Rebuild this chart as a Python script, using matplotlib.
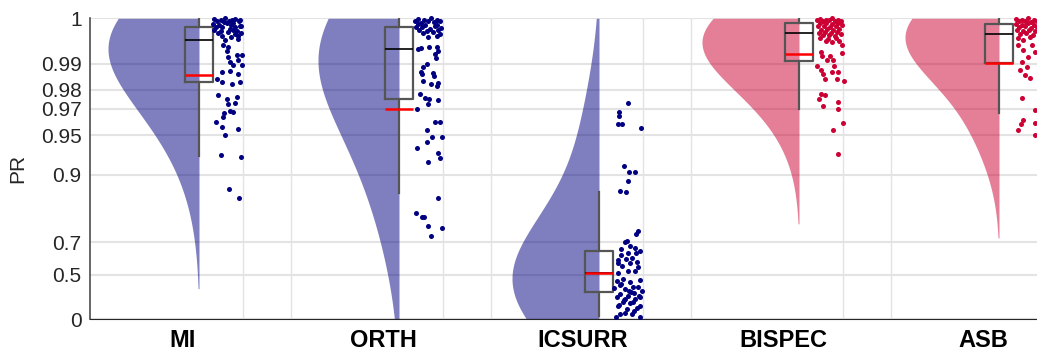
import numpy as np
import matplotlib
matplotlib.use("Agg")
import matplotlib.pyplot as plt

plt.rcParams['font.family'] = ['Liberation Sans', 'DejaVu Sans']

# groups and colours
groups = ['MI', 'ORTH', 'ICSURR', 'BISPEC', 'ASB']
dot_colors = ['#000080', '#000080', '#000080', '#cc0033', '#cc0033']
yticks = [0, 0.5, 0.7, 0.9, 0.95, 0.97, 0.98, 0.99, 1]
yticklabels = ['0', '0.5', '0.7', '0.9', '0.95', '0.97', '0.98', '0.99', '1']

# box summaries
q1 = [0.9833, 0.9755, 0.350, 0.9907, 0.9903]
med = [0.9961, 0.9939, 0.513, 0.9975, 0.9973]
q3 = [0.9986, 0.9986, 0.655, 0.9992, 0.9991]
whislo = [0.927, 0.8645, 0.050, 0.970, 0.967]
whishi = [1.0, 1.0, 0.867, 1.0, 1.0]
means = [0.986, 0.970, 0.515, 0.9928, 0.9902]

# PR values of the single subjects, with their horizontal jitter
mi_pr = [0.9999, 0.9998, 1.0, 0.9998, 0.9999, 0.9997,
         0.9995, 0.9994, 0.9996, 0.9993, 0.9995,
         0.9991, 0.9989, 0.9992, 0.9990, 0.9988,
         0.9985, 0.9986, 0.9983, 0.9985, 0.9987,
         0.9980, 0.9978, 0.9981, 0.9979,
         0.9974, 0.9976, 0.9972, 0.9975,
         0.9968, 0.9966, 0.9969,
         0.9960, 0.9962, 0.9949, 0.9944, 0.9935, 0.9924, 0.9924, 0.9918, 0.9910, 0.9905, 0.9895, 0.9895,
         0.9872, 0.9875, 0.9865, 0.9846, 0.9834, 0.9826, 0.9834, 0.9776, 0.9755, 0.9766, 0.9728, 0.9734,
         0.9686, 0.9680, 0.9673, 0.9645, 0.9610, 0.9572, 0.9555, 0.9502, 0.9288, 0.9260, 0.8735, 0.8535]
mi_jit = [.075, .11, .13, .165, .18, .205, .09, .125, .15, .17, .2, .07, .10, .14, .16, .21,
          .085, .115, .155, .18, .205, .075, .11, .17, .19, .095, .145, .18, .21, .115, .16, .195,
          .13, .195, .12, .145, .14, .19, .215, .145, .195, .155, .17, .215,
          .115, .155, .195, .09, .115, .165, .205, .095, .14, .19, .145, .18,
          .155, .17, .125, .12, .085, .115, .195, .13, .11, .21, .15, .20]

orth_pr = [0.9999, 0.9997, 1.0, 0.9998,
           0.9995, 0.9993, 0.9996, 0.9994, 0.9995,
           0.9991, 0.9989, 0.9990,
           0.9985, 0.9986, 0.9983, 0.9987, 0.9984,
           0.9980, 0.9978, 0.9981,
           0.9974, 0.9976, 0.9972,
           0.9966, 0.9968,
           0.9940, 0.9942, 0.9944, 0.9944, 0.9927, 0.9934, 0.9916, 0.9898, 0.9889, 0.9872, 0.9865, 0.9868,
           0.9857, 0.9838, 0.9826, 0.9830, 0.9818, 0.9780, 0.9760, 0.9755, 0.9728, 0.9750, 0.9698, 0.9610,
           0.9610, 0.9546, 0.9483, 0.9483, 0.9370, 0.9435, 0.9312, 0.9250, 0.9196, 0.8530, 0.8130, 0.7980,
           0.8010, 0.7700, 0.7625, 0.7265]
orth_jit = [.095, .125, .16, .19, .08, .11, .145, .175, .205, .095, .13, .19,
            .085, .115, .155, .18, .21, .10, .14, .195, .12, .17, .205, .145, .19,
            .095, .11, .15, .19, .18, .195, .185, .14, .12, .11, .115, .17,
            .175, .12, .16, .195, .19, .105, .13, .15, .145, .195, .09, .18,
            .205, .14, .165, .215, .09, .14, .195, .205, .145, .195, .085, .115,
            .125, .145, .215, .16]

icsurr_pr = [0.9734, 0.9680, 0.9652, 0.9595, 0.9595, 0.9562, 0.9140, 0.9050, 0.9050, 0.8890, 0.8690,
             0.8670,
             0.751, 0.735, 0.708, 0.699, 0.674, 0.684, 0.664, 0.647, 0.647, 0.636, 0.653, 0.618,
             0.606, 0.612, 0.593, 0.587, 0.587, 0.560, 0.567, 0.532, 0.525, 0.510,
             0.445, 0.462, 0.436, 0.453, 0.399, 0.409, 0.371, 0.390, 0.381, 0.351, 0.321, 0.331,
             0.351, 0.299, 0.288, 0.266, 0.254, 0.288, 0.230, 0.219,
             0.420, 0.350, 0.300, 0.270, 0.240, 0.200, 0.160, 0.100,
             0.183, 0.183, 0.143, 0.116, 0.075, 0.075, 0.030, 0.030]
icsurr_jit = [.145, .10, .10, .095, .115, .21, .125, .15, .18, .145, .105, .135,
              .195, .185, .14, .13, .18, .155, .11, .145, .185, .11, .205, .165,
              .095, .135, .19, .095, .155, .195, .115, .145, .18, .095,
              .09, .12, .155, .205, .17, .105, .13, .195, .075, .15, .105, .175,
              .215, .145, .09, .18, .125, .205, .12, .155,
              .11, .16, .20, .13, .17, .10, .19, .13,
              .095, .205, .14, .175, .105, .165, .085, .205]

bispec_pr = [0.9999, 0.9998, 1.0, 0.9998,
             0.9997, 0.9996, 0.9997, 0.9995, 0.9996,
             0.9992, 0.9993, 0.9991, 0.9992,
             0.9987, 0.9988, 0.9986, 0.9987, 0.9989,
             0.9981, 0.9982, 0.9980, 0.9983,
             0.9975, 0.9977, 0.9974, 0.9976,
             0.9970, 0.9971, 0.9969, 0.9972,
             0.9964, 0.9962, 0.9965,
             0.9958, 0.9956, 0.9959,
             0.9949, 0.9929, 0.9932, 0.9921, 0.9921, 0.9910, 0.9910, 0.9892, 0.9892, 0.9879, 0.9865, 0.9872,
             0.9872, 0.9846, 0.9846, 0.9838, 0.9780, 0.9776, 0.9755, 0.9716, 0.9740, 0.9700, 0.9600, 0.9546,
             0.9300]
bispec_jit = [.105, .135, .165, .195, .09, .12, .15, .18, .21, .105, .135, .165, .195,
              .095, .125, .155, .185, .215, .11, .14, .17, .2, .10, .13, .16, .19,
              .12, .15, .18, .21, .105, .145, .185, .135, .165, .20,
              .215, .215, .11, .115, .155, .14, .17, .175, .09, .11, .12, .165,
              .195, .13, .19, .225, .11, .13, .10, .12, .195, .195, .22, .17, .195]

asb_pr = [0.9999, 0.9998, 1.0, 0.9997, 0.9999,
          0.9995, 0.9996, 0.9994, 0.9995,
          0.9991, 0.9990, 0.9992, 0.9989, 0.9991,
          0.9985, 0.9987, 0.9984, 0.9986,
          0.9980, 0.9979, 0.9981, 0.9978,
          0.9972, 0.9974, 0.9971,
          0.9964, 0.9966,
          0.9960, 0.9949, 0.9949, 0.9937, 0.9918, 0.9905, 0.9889, 0.9861, 0.9852, 0.9932, 0.9879, 0.9760,
          0.9692, 0.9624, 0.9595, 0.9602, 0.9546, 0.9502, 0.9300]
asb_jit = [.085, .115, .145, .175, .205, .10, .13, .16, .19, .085, .115, .145, .175, .205,
           .10, .13, .16, .19, .09, .12, .15, .18, .105, .135, .17, .095, .155,
           .12, .095, .165, .12, .145, .115, .14, .13, .155, .18, .105, .115,
           .18, .12, .11, .18, .095, .18, .21]

all_pr = [mi_pr, orth_pr, icsurr_pr, bispec_pr, asb_pr]
all_jit = [mi_jit, orth_jit, icsurr_jit, bispec_jit, asb_jit]

# kde bandwidth (in axis units) and half-violin peak width per group
bandwidth = [0.35, 0.45, 0.40, 0.28, 0.29]
violin_width = [0.455, 0.405, 0.435, 0.485, 0.47]


def fwd(x):
    x = np.asarray(x, dtype=float)
    return -np.log10(np.clip(1.01 - x, 1e-9, None))


def inv(t):
    return 1.01 - 10.0 ** (-np.asarray(t, dtype=float))


fig = plt.figure(figsize=(10.37, 3.54), dpi=100)
ax = fig.add_axes([90 / 1037, (354 - 319.3) / 354, 1 - 90 / 1037, (319.3 - 18.3) / 354])
ax.set_yscale('function', functions=(fwd, inv))

centers = np.arange(len(groups))

t_grid = np.linspace(fwd(0), fwd(1), 600)
pr_grid = inv(t_grid)
for i in range(len(groups)):
    t_data = fwd(all_pr[i])
    dens = np.exp(-0.5 * ((t_grid[:, None] - t_data[None, :]) / bandwidth[i]) ** 2).sum(axis=1)
    dens = dens / dens.max()
    w = dens * violin_width[i]
    ax.fill_betweenx(pr_grid, centers[i] - w, centers[i], where=dens > 0.01,
                     color=dot_colors[i], alpha=0.5, lw=0, zorder=2)

stats = []
for i in range(len(groups)):
    stats.append(dict(med=med[i], q1=q1[i], q3=q3[i], whislo=whislo[i], whishi=whishi[i],
                      mean=means[i], fliers=[]))
ax.bxp(stats, positions=centers, widths=0.14, showmeans=True, meanline=True, showcaps=False,
       showfliers=False, manage_ticks=False,
       boxprops=dict(color='#555555', lw=1.6),
       whiskerprops=dict(color='#555555', lw=1.6),
       medianprops=dict(color='black', lw=1.2),
       meanprops=dict(color='red', lw=1.8, ls='-'), zorder=3)

for i in range(len(groups)):
    ax.scatter(centers[i] + np.array(all_jit[i]), all_pr[i], s=13, color=dot_colors[i],
               lw=0, zorder=4, clip_on=False)

# vertical grid lines
for i in range(len(groups)):
    for off in (0.22, 0.46):
        ax.axvline(centers[i] + off, color='#e3e3e3', lw=1, zorder=0)

ax.set_ylim(0, 1)
ax.set_xlim(-0.545, 4.19)
ax.set_yticks(yticks)
ax.set_yticklabels(yticklabels, fontsize=15, color='#262626')
ax.set_xticks(centers - 0.08)
ax.set_xticklabels(groups, fontsize=17, fontweight='bold', color='black')
ax.tick_params(axis='both', length=0)
ax.tick_params(axis='y', pad=6)
ax.tick_params(axis='x', pad=7)
ax.yaxis.grid(True, color='#e3e3e3', lw=1.5, zorder=0)
ax.set_axisbelow(True)

for s in ['top', 'right']:
    ax.spines[s].set_visible(False)
ax.spines['left'].set_color('#4d4d4d')
ax.spines['left'].set_linewidth(1.2)
ax.spines['bottom'].set_color('#262626')

fig.text(17.5 / 1037, 1 - 168 / 354, 'PR', rotation=90, ha='center', va='center',
         fontsize=15, color='#262626')

fig.savefig('out.png', dpi=100)
